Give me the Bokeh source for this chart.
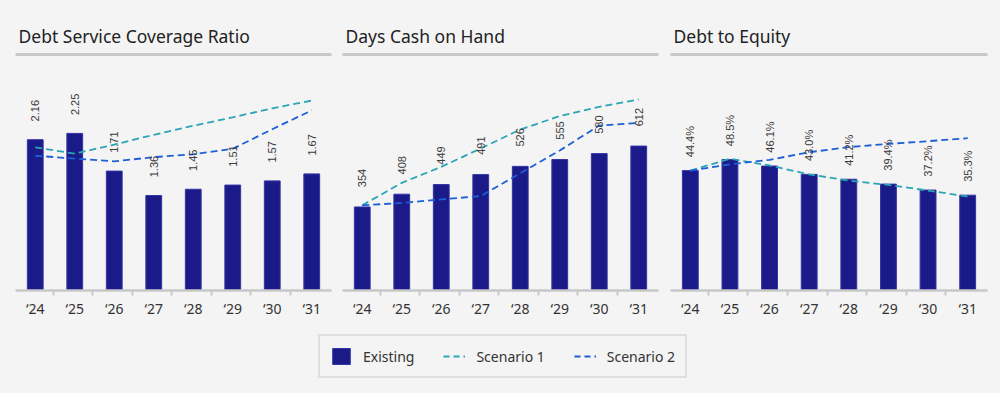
import math
from bokeh.plotting import figure
from bokeh.models import (ColumnDataSource, Range1d, FixedTicker, LinearAxis,
                          Title, LabelSet, Legend, LegendItem)
from bokeh.core.properties import value
from bokeh.layouts import column, row
from bokeh.embed import file_html
from bokeh.resources import INLINE

# ---------------- data ----------------
years = ["‘24", "‘25", "‘26", "‘27", "‘28", "‘29", "‘30", "‘31"]

dscr_existing = [2.16, 2.25, 1.71, 1.36, 1.45, 1.51, 1.57, 1.67]
dscr_s1 = [2.05, 1.96, 2.09, 2.23, 2.36, 2.48, 2.61, 2.72]
dscr_s2 = [1.93, 1.89, 1.85, 1.91, 1.95, 2.03, 2.31, 2.58]

days_existing = [354, 408, 449, 491, 526, 555, 580, 612]
days_s1 = [361, 456, 524, 602, 682, 739, 778, 810]
days_s2 = [361, 371, 386, 400, 497, 593, 699, 710]

de_existing = [44.4, 48.5, 46.1, 43.0, 41.2, 39.4, 37.2, 35.3]
de_s1 = [44.4, 48.8, 46.3, 43.0, 40.7, 39.1, 37.0, 34.8]
de_s2 = [44.4, 46.7, 48.4, 51.2, 53.1, 54.3, 55.3, 56.4]

titles = ["Debt Service Coverage Ratio", "Days Cash on Hand", "Debt to Equity"]
series_names = ["Existing", "Scenario 1", "Scenario 2"]

# ---------------- style ----------------
BG = "#f4f4f4"
RULE = "#c8c8c8"
BAR_FILL = "#1a1a88"
BAR_LINE = "#3434a6"
TEAL = "#2aa5b6"
BLUE = "#1c5fd8"
DASH = "7 4"
FONT = "Noto Sans"

idx = list(range(len(years)))


def make_panel(title, existing, s1, s2, fmt, y_end, width, bl, br):
    p = figure(width=width, height=324, x_range=Range1d(-0.5, len(years) - 0.5),
               y_range=Range1d(0, y_end), output_backend="svg",
               toolbar_location=None, title=None,
               background_fill_color=BG, border_fill_color=BG,
               outline_line_color=None, min_border_left=bl, min_border_right=br,
               min_border_top=54, min_border_bottom=34)
    p.xaxis.visible = False
    p.yaxis.visible = False
    p.grid.visible = False

    src = ColumnDataSource(dict(x=idx, top=existing, s1=s1, s2=s2,
                                label=[fmt(v) for v in existing]))
    p.vbar(x="x", top="top", width=0.40, source=src, fill_color=BAR_FILL,
           line_color=BAR_LINE, line_width=1)
    p.line(x="x", y="s1", source=src, line_color=TEAL, line_width=1.8, line_dash=DASH)
    p.line(x="x", y="s2", source=src, line_color=BLUE, line_width=1.8, line_dash=DASH)

    labels = LabelSet(x="x", y="top", text="label", source=src, angle=math.pi / 2,
                      text_align="center", text_baseline="middle", y_offset=29,
                      text_font=value("Liberation Sans"), text_font_size=value("11px"),
                      text_color="#3a3a3a")
    p.add_layout(labels)

    # bottom category axis
    xa = LinearAxis(ticker=FixedTicker(ticks=idx, minor_ticks=[i + 0.45 for i in idx[:-1]]),
                    major_label_overrides={i: y for i, y in zip(idx, years)})
    xa.axis_line_color = RULE
    xa.axis_line_width = 2.5
    xa.major_tick_line_color = None
    xa.major_tick_out = 0
    xa.major_tick_in = 0
    xa.minor_tick_line_color = RULE
    xa.minor_tick_line_width = 2
    xa.minor_tick_out = 5
    xa.minor_tick_in = 0
    xa.major_label_standoff = 3
    xa.major_label_text_font = FONT
    xa.major_label_text_font_size = "14px"
    xa.major_label_text_color = "#333333"
    p.add_layout(xa, "below")

    # rule under title
    ta = LinearAxis(ticker=FixedTicker(ticks=[]))
    ta.axis_line_color = RULE
    ta.axis_line_width = 3
    ta.major_tick_line_color = None
    ta.minor_tick_line_color = None
    ta.major_label_text_font_size = "0px"
    p.add_layout(ta, "above")

    t = Title(text=title, align="left", offset=3, text_font=FONT,
              text_font_size="17.5px", text_font_style="normal", text_color="#222222",
              standoff=14)
    p.add_layout(t, "above")
    return p


p1 = make_panel(titles[0], dscr_existing, dscr_s1, dscr_s2, lambda v: f"{v:.2f}",
                3.38, 337, 15, 6)
p2 = make_panel(titles[1], days_existing, days_s1, days_s2, lambda v: f"{v:d}",
                1000, 327, 5, 6)
p3 = make_panel(titles[2], de_existing, de_s1, de_s2, lambda v: f"{v:.1f}%",
                87.4, 336, 6, 13)

# legend strip (its renderers sit outside the visible range; only the legend shows)
lg = figure(width=1000, height=69, x_range=Range1d(-20, -19), y_range=Range1d(-20, -19),
            output_backend="svg", toolbar_location=None,
            background_fill_color=BG, border_fill_color=BG, outline_line_color=None,
            min_border=0)
lg.xaxis.visible = False
lg.yaxis.visible = False
lg.grid.visible = False
lsrc = ColumnDataSource(dict(x=idx, top=days_existing, s1=days_s1, s2=days_s2))
r0 = lg.vbar(x="x", top="top", width=0.4, source=lsrc, fill_color=BAR_FILL,
             line_color=BAR_LINE)
r1 = lg.line(x="x", y="s1", source=lsrc, line_color=TEAL, line_width=1.8, line_dash="6 4")
r2 = lg.line(x="x", y="s2", source=lsrc, line_color=BLUE, line_width=1.8, line_dash="6 4")
legend = Legend(items=[LegendItem(label=series_names[0], renderers=[r0]),
                       LegendItem(label=series_names[1], renderers=[r1]),
                       LegendItem(label=series_names[2], renderers=[r2])],
                orientation="horizontal", location=(318, 15),
                border_line_color=RULE, border_line_width=2.5,
                background_fill_color=BG, background_fill_alpha=1,
                label_text_font=FONT, label_text_font_size="14px",
                label_text_color="#333333",
                glyph_width=22, glyph_height=20, label_standoff=11,
                spacing=29, padding=10, margin=0)
lg.add_layout(legend, "center")

layout = column(row(p1, p2, p3), lg)

html = file_html(layout, INLINE, title="Financial Ratios")
html = html.replace("</head>", "<style>html,body{background:#f4f4f4;}</style></head>", 1)
open("out.html", "w").write(html)
